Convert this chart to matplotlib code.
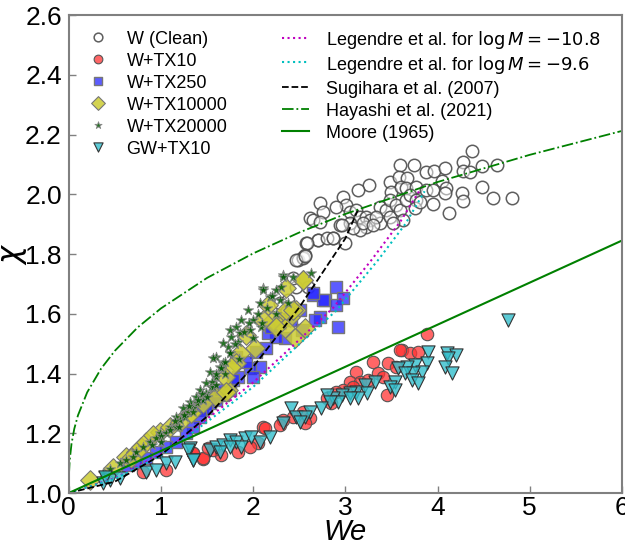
import numpy as np
import matplotlib
matplotlib.use("Agg")
from matplotlib import pyplot as plt

plt.rcParams['font.family'] = ['Liberation Sans', 'DejaVu Sans']
plt.rcParams['mathtext.fontset'] = 'dejavusans'

# W (Clean)
clean_x = [4.369, 3.591, 3.747, 3.880, 3.964, 4.079, 4.278, 4.278, 4.351, 4.488, 4.647,
           3.255, 3.490, 3.580, 3.671, 3.501, 3.609, 3.663, 3.772, 3.880, 3.946, 4.054,
           4.090, 4.079, 4.267, 4.278, 4.488, 4.597, 4.810, 3.953, 4.123, 3.139, 2.723,
           2.976, 3.012, 2.904, 2.759, 2.615, 2.651, 2.723, 2.940, 3.049, 3.121, 3.157,
           3.229, 3.266, 3.374, 3.446, 3.483, 3.555, 3.374, 3.229, 3.157, 3.049, 3.338,
           3.483, 3.591, 3.663, 3.700, 3.772, 3.627, 3.519, 2.868, 2.578, 2.705, 2.994,
           3.085, 3.193, 3.302, 2.542, 3.754, 3.808, 2.705, 2.796, 2.868, 2.959, 2.579,
           2.488, 2.543, 2.561, 2.597, 2.470, 2.434, 2.289, 2.380, 2.362, 2.470, 2.561]
clean_y = [2.146, 2.098, 2.098, 2.076, 2.079, 2.087, 2.107, 2.079, 2.076, 2.096, 2.098,
           2.031, 2.042, 2.059, 2.053, 2.009, 2.025, 2.020, 2.025, 2.014, 2.014, 2.045,
           2.022, 2.003, 2.003, 1.978, 2.025, 1.989, 1.986, 1.966, 1.936, 2.014, 1.972,
           1.990, 1.964, 1.958, 1.942, 1.919, 1.914, 1.908, 1.897, 1.942, 1.947, 1.925,
           1.925, 1.914, 1.958, 1.947, 1.981, 1.964, 1.903, 1.891, 1.880, 1.903, 1.925,
           1.925, 1.947, 1.981, 1.997, 1.981, 1.914, 1.903, 1.852, 1.836, 1.847, 1.836,
           1.886, 1.903, 1.897, 1.791, 1.953, 1.975, 1.847, 1.853, 1.853, 1.897, 1.836,
           1.780, 1.786, 1.797, 1.691, 1.691, 1.719, 1.635, 1.646, 1.607, 1.780, 1.793]

# W+TX10
tx10_x = [3.888, 3.610, 3.700, 3.790, 3.302, 3.121, 3.465, 3.555, 3.356, 3.411, 3.049,
          3.157, 3.248, 2.976, 2.904, 3.085, 3.447, 2.796, 2.850, 2.542, 2.434, 2.325,
          2.289, 2.108, 2.615, 2.561, 1.457, 1.656, 2.054, 2.127, 1.837, 1.566, 1.349,
          1.964, 0.807, 1.060, 1.349, 1.458, 1.512, 3.592]
tx10_y = [1.532, 1.479, 1.468, 1.473, 1.440, 1.406, 1.434, 1.423, 1.401, 1.389, 1.373,
          1.373, 1.378, 1.345, 1.339, 1.356, 1.328, 1.317, 1.300, 1.272, 1.256, 1.244,
          1.228, 1.222, 1.250, 1.233, 1.113, 1.127, 1.166, 1.216, 1.138, 1.144, 1.133,
          1.155, 1.071, 1.077, 1.133, 1.116, 1.149, 1.479]

# W+TX250
tx250_x = [2.904, 2.651, 2.778, 2.977, 2.904, 2.724, 2.669, 2.922, 2.507, 2.525, 2.344,
           2.253, 2.163, 2.145, 2.036, 2.072, 1.964, 1.928, 1.837, 1.783, 1.675, 1.602,
           1.530, 1.440, 2.289, 2.416, 2.199, 1.819, 2.000, 2.759, 2.651, 1.675, 1.602,
           1.494, 1.422, 1.349, 1.277, 1.168, 1.060, 0.951, 0.843, 0.734, 0.644, 1.747,
           1.638]
tx250_y = [1.691, 1.663, 1.646, 1.652, 1.629, 1.590, 1.579, 1.557, 1.613, 1.546, 1.518,
           1.523, 1.535, 1.484, 1.473, 1.423, 1.417, 1.440, 1.389, 1.378, 1.334, 1.322,
           1.300, 1.278, 1.568, 1.579, 1.557, 1.456, 1.389, 1.646, 1.668, 1.328, 1.311,
           1.283, 1.255, 1.222, 1.200, 1.172, 1.155, 1.138, 1.116, 1.105, 1.094, 1.345,
           1.345]

# W+TX10000
tx10000_x = [2.543, 2.362, 2.470, 2.398, 2.289, 2.344, 2.561, 2.452, 2.163, 2.217, 2.253,
             1.928, 2.018, 1.855, 1.819, 1.765, 1.729, 1.693, 1.331, 2.109, 2.362, 0.228,
             0.481, 0.626, 0.734, 0.789, 0.843, 0.988, 1.096, 1.205, 1.331, 1.458, 1.602,
             1.711, 0.915, 0.680, 2.542, 2.434]
tx10000_y = [1.713, 1.685, 1.613, 1.590, 1.579, 1.551, 1.551, 1.518, 1.629, 1.579, 1.557,
             1.529, 1.484, 1.468, 1.434, 1.423, 1.345, 1.389, 1.267, 1.579, 1.613, 1.043,
             1.083, 1.122, 1.138, 1.155, 1.172, 1.205, 1.222, 1.239, 1.267, 1.300, 1.322,
             1.339, 1.194, 1.116, 1.713, 1.613]

# W+TX20000
tx20000_x = [2.326, 2.633, 2.109, 2.253, 1.946, 2.000, 2.090, 1.873, 1.819, 1.855, 1.765,
             1.729, 1.747, 1.602, 1.675, 1.530, 1.602, 1.494, 1.421, 1.385, 1.313, 1.241,
             2.434, 2.181, 2.289, 2.380, 2.072, 1.964, 1.837, 1.638, 1.548, 1.457, 1.168,
             2.108, 2.325, 1.566, 1.674, 1.747, 0.373, 0.553, 0.734, 0.879, 0.988, 1.096,
             1.205, 1.295, 1.386, 1.494, 1.566, 0.807, 0.951, 1.060, 1.168, 1.259, 0.626,
             1.349, 1.458, 0.45, 0.70, 0.90, 1.00, 1.10, 1.15, 1.25, 1.30, 1.40, 1.45,
             1.55, 1.60, 1.65, 1.70, 1.75, 1.80, 1.90, 1.95, 2.05, 2.15, 2.20, 2.30, 1.00,
             1.20, 1.35, 1.50, 1.60, 1.70, 1.85, 2.00, 2.10, 2.25]
tx20000_y = [1.730, 1.735, 1.685, 1.680, 1.613, 1.579, 1.557, 1.579, 1.557, 1.535, 1.523,
             1.490, 1.468, 1.456, 1.434, 1.406, 1.389, 1.367, 1.345, 1.323, 1.306, 1.283,
             1.724, 1.657, 1.646, 1.635, 1.635, 1.546, 1.507, 1.423, 1.356, 1.311, 1.256,
             1.679, 1.724, 1.451, 1.501, 1.546, 1.066, 1.099, 1.138, 1.172, 1.200, 1.222,
             1.244, 1.272, 1.300, 1.334, 1.356, 1.155, 1.183, 1.200, 1.222, 1.255, 1.110,
             1.283, 1.311, 1.08, 1.12, 1.16, 1.19, 1.21, 1.24, 1.26, 1.29, 1.31, 1.33,
             1.37, 1.40, 1.42, 1.44, 1.47, 1.50, 1.54, 1.57, 1.60, 1.62, 1.66, 1.69, 1.17,
             1.22, 1.27, 1.32, 1.36, 1.40, 1.45, 1.52, 1.57, 1.60]

# GW+TX10
gw_x = [3.899, 4.098, 4.199, 4.116, 4.080, 4.152, 3.881, 3.754, 3.664, 3.573, 3.827,
        3.736, 3.646, 3.718, 3.791, 3.537, 3.483, 3.537, 3.320, 3.212, 3.121, 3.049,
        2.959, 2.868, 2.796, 3.230, 3.139, 3.049, 2.922, 2.832, 2.741, 2.615, 2.416,
        2.470, 2.561, 2.325, 2.506, 1.313, 1.349, 1.530, 1.602, 1.675, 1.747, 1.819,
        1.910, 1.982, 2.072, 2.181, 1.638, 1.747, 1.873, 0.373, 0.445, 0.553, 0.843,
        0.951, 1.060, 1.150, 1.295, 1.349, 0.391, 4.766]
gw_y = [1.473, 1.468, 1.462, 1.451, 1.421, 1.401, 1.434, 1.429, 1.423, 1.417, 1.406,
        1.401, 1.401, 1.378, 1.369, 1.373, 1.356, 1.345, 1.373, 1.362, 1.339, 1.334,
        1.328, 1.317, 1.328, 1.334, 1.317, 1.317, 1.306, 1.306, 1.283, 1.272, 1.283,
        1.256, 1.256, 1.233, 1.239, 1.149, 1.110, 1.144, 1.155, 1.161, 1.177, 1.172,
        1.183, 1.189, 1.172, 1.189, 1.138, 1.155, 1.155, 1.032, 1.044, 1.049, 1.071,
        1.077, 1.099, 1.105, 1.144, 1.110, 1.055, 1.579]

# model curves
leg108_x = [0, 0.5, 1.0, 1.53, 2.0, 2.4, 2.868, 3.284, 3.6, 3.84]
leg108_y = [1.0, 1.05, 1.13, 1.255, 1.37, 1.484, 1.62, 1.78, 1.91, 2.03]
leg96_x = [0, 0.5, 1.0, 1.53, 2.0, 2.45, 2.9, 3.356, 3.65, 3.86]
leg96_y = [1.0, 1.048, 1.125, 1.245, 1.355, 1.484, 1.61, 1.78, 1.90, 2.01]
sug_x = [0, 0.5, 1.0, 1.5, 2.0, 2.5, 3.0, 3.14]
sug_y = [1.0, 1.038, 1.127, 1.256, 1.422, 1.621, 1.852, 1.95]
hay_x = [0, 0.002, 0.01, 0.03, 0.06, 0.1, 0.2, 0.35, 0.5, 0.75, 1.0, 1.5, 2.0, 2.5,
         3.0, 4.0, 5.0, 6.0]
hay_y = [1.0, 1.060, 1.109, 1.165, 1.215, 1.260, 1.337, 1.416, 1.476, 1.555, 1.618,
         1.720, 1.802, 1.872, 1.934, 2.041, 2.132, 2.212]
moore_x = [0, 6]
moore_y = [1.0, 1.845]

fig = plt.figure(figsize=(6.25, 5.45), dpi=100)
ax = fig.add_axes([0.110, 0.0954, 0.885, 0.877])

edge = '#555555'
s1 = ax.scatter(clean_x, clean_y, s=80, marker='o', facecolor=(1, 1, 1, 0.5),
                edgecolor=(0.3, 0.3, 0.3, 0.9), linewidth=1.1, label='W (Clean)')
s2 = ax.scatter(tx10_x, tx10_y, s=80, marker='o', facecolor=(1, 0.2, 0.2, 0.75),
                edgecolor=edge, linewidth=0.8, label='W+TX10')
s3 = ax.scatter(tx250_x, tx250_y, s=80, marker='s', facecolor=(0.15, 0.15, 1, 0.75),
                edgecolor='#777777', linewidth=1.0, label='W+TX250')
s4 = ax.scatter(tx10000_x, tx10000_y, s=100, marker='D', facecolor=(0.8, 0.8, 0.2, 0.85),
                edgecolor='#777777', linewidth=0.8, label='W+TX10000')
s5 = ax.scatter(tx20000_x, tx20000_y, s=60, marker='*', facecolor=(0.0, 0.35, 0.0, 0.85),
                edgecolor='#888888', linewidth=0.6, label='W+TX20000')
s6 = ax.scatter(gw_x, gw_y, s=90, marker='v', facecolor=(0.2, 0.75, 0.8, 0.8),
                edgecolor='#333333', linewidth=0.8, label='GW+TX10')

l1, = ax.plot(leg108_x, leg108_y, ':', color='m', lw=1.5,
              label=r'Legendre et al. for $\log M = -10.8$')
l2, = ax.plot(leg96_x, leg96_y, ':', color='c', lw=1.5,
              label=r'Legendre et al. for $\log M = -9.6$')
l3, = ax.plot(sug_x, sug_y, '--', color='k', lw=1.3, label='Sugihara et al. (2007)')
l4, = ax.plot(hay_x, hay_y, '-.', color='green', lw=1.3, label='Hayashi et al. (2021)')
l5, = ax.plot(moore_x, moore_y, '-', color='green', lw=1.5, label='Moore (1965)')

ax.set_xlim(0, 6)
ax.set_ylim(1.0, 2.6)
ax.set_xticks(range(0, 7))
ax.set_yticks(np.arange(1.0, 2.61, 0.2))
ax.set_yticklabels(['%.1f' % v for v in np.arange(1.0, 2.61, 0.2)])
ax.tick_params(direction='in', labelsize=19, length=5, width=1, color='#808080')
ax.tick_params(axis='y', pad=5)
ax.tick_params(axis='x', pad=2)
for sp in ax.spines.values():
    sp.set_color('#808080')
    sp.set_linewidth(1.5)
ax.set_xlabel('We', style='italic', fontsize=21, labelpad=-1)
ax.set_ylabel(r'$\chi$', fontsize=22, labelpad=-3)

leg_a = ax.legend([s1, s2, s3, s4, s5, s6],
                  ['W (Clean)', 'W+TX10', 'W+TX250', 'W+TX10000', 'W+TX20000', 'GW+TX10'],
                  loc='upper left', bbox_to_anchor=(0.023, 0.987),
                  frameon=False, fontsize=13, markerscale=0.7, labelspacing=0.15,
                  handleheight=1.2, handlelength=1.0, handletextpad=1.1,
                  borderaxespad=0)
ax.add_artist(leg_a)
ax.legend([l1, l2, l3, l4, l5], [h.get_label() for h in (l1, l2, l3, l4, l5)],
          loc='upper left', bbox_to_anchor=(0.372, 0.985),
          frameon=False, fontsize=13, labelspacing=0.15, handleheight=1.2,
          handlelength=1.5, handletextpad=0.95, borderaxespad=0)

fig.savefig('out.png', dpi=100)
